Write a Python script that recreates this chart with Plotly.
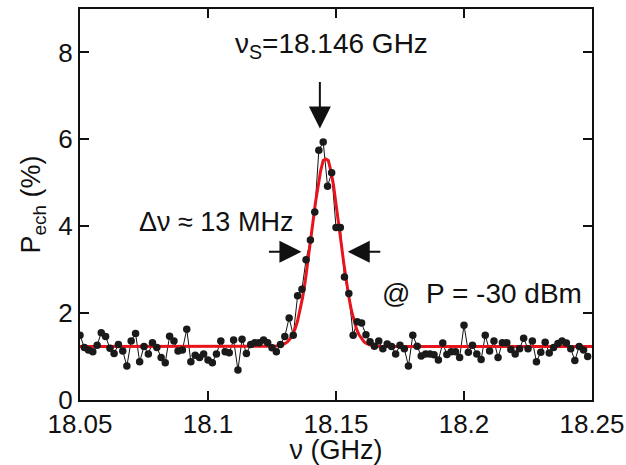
import plotly.graph_objects as go

# measured frequencies (GHz)
freq = [18.0500, 18.0517, 18.0533, 18.0550, 18.0567, 18.0583, 18.0600, 18.0617, 18.0633, 18.0650,
        18.0667, 18.0683, 18.0700, 18.0717, 18.0733, 18.0750, 18.0767, 18.0783, 18.0800, 18.0817,
        18.0833, 18.0850, 18.0867, 18.0883, 18.0900, 18.0917, 18.0933, 18.0950, 18.0967, 18.0983,
        18.1000, 18.1017, 18.1033, 18.1050, 18.1067, 18.1083, 18.1100, 18.1117, 18.1133, 18.1150,
        18.1167, 18.1183, 18.1200, 18.1217, 18.1233, 18.1250, 18.1267, 18.1283, 18.1300, 18.1317,
        18.1333, 18.1350, 18.1367, 18.1383, 18.1400, 18.1417, 18.1433, 18.1450, 18.1467, 18.1483,
        18.1500, 18.1517, 18.1533, 18.1550, 18.1567, 18.1583, 18.1600, 18.1617, 18.1633, 18.1650,
        18.1667, 18.1683, 18.1700, 18.1717, 18.1733, 18.1750, 18.1767, 18.1783, 18.1800, 18.1817,
        18.1833, 18.1850, 18.1867, 18.1883, 18.1900, 18.1917, 18.1933, 18.1950, 18.1967, 18.1983,
        18.2000, 18.2017, 18.2033, 18.2050, 18.2067, 18.2083, 18.2100, 18.2117, 18.2133, 18.2150,
        18.2167, 18.2183, 18.2200, 18.2217, 18.2233, 18.2250, 18.2267, 18.2283, 18.2300, 18.2317,
        18.2333, 18.2350, 18.2367, 18.2383, 18.2400, 18.2417, 18.2433, 18.2450, 18.2467, 18.2483]

# measured switching probability (%)
p_ech = [1.49, 1.21, 1.15, 1.11, 1.26, 1.55, 1.46, 1.19, 1.07, 1.28,
         1.13, 0.78, 1.36, 1.53, 0.88, 1.23, 1.06, 1.32, 1.21, 0.98,
         0.86, 1.47, 1.36, 1.13, 1.15, 1.63, 0.88, 1.03, 0.98, 1.06,
         0.92, 0.86, 1.06, 1.36, 1.11, 1.09, 1.38, 0.69, 1.40, 1.07,
         1.28, 1.32, 1.32, 1.38, 1.32, 1.20, 1.11, 1.28, 1.46, 1.89,
         1.49, 2.40, 2.55, 3.23, 3.68, 4.33, 5.75, 5.94, 4.92, 5.23,
         3.97, 3.97, 2.83, 2.45, 1.49, 1.80, 1.77, 1.50, 1.34, 1.24,
         1.36, 1.18, 1.29, 1.23, 1.06, 1.26, 1.18, 0.78, 1.49, 1.24,
         1.01, 1.06, 1.06, 1.04, 0.92, 1.31, 1.05, 1.11, 1.11, 0.98,
         1.72, 1.10, 1.26, 1.06, 0.93, 1.49, 1.13, 1.36, 0.98, 1.32,
         1.32, 1.16, 1.06, 1.18, 1.42, 1.18, 1.36, 0.88, 1.10, 1.33,
         1.08, 1.21, 1.30, 1.36, 1.31, 1.18, 0.91, 1.23, 1.15, 1.00]

# fitted curve
fit_freq = [18.050, 18.124, 18.126, 18.128, 18.129, 18.130, 18.131, 18.132, 18.133, 18.134,
            18.135, 18.136, 18.137, 18.138, 18.139, 18.140, 18.141, 18.142, 18.143, 18.144,
            18.145, 18.146, 18.147, 18.148, 18.149, 18.150, 18.151, 18.152, 18.153, 18.154,
            18.155, 18.156, 18.157, 18.158, 18.159, 18.160, 18.161, 18.162, 18.163, 18.164,
            18.166, 18.168, 18.250]
fit_p = [1.230, 1.232, 1.236, 1.251, 1.268, 1.295, 1.338, 1.403, 1.500, 1.637,
         1.823, 2.068, 2.374, 2.742, 3.163, 3.623, 4.096, 4.552, 4.957, 5.276,
         5.515, 5.550, 5.515, 5.276, 4.957, 4.552, 4.096, 3.623, 3.163, 2.742,
         2.374, 2.068, 1.823, 1.637, 1.500, 1.403, 1.338, 1.295, 1.268, 1.251,
         1.236, 1.232, 1.230]

x_ticks = [18.05, 18.1, 18.15, 18.2, 18.25]
x_ticklabels = ["18.05", "18.1", "18.15", "18.2", "18.25"]
y_ticks = [0, 2, 4, 6, 8]

FONT = "Liberation Sans, Arial, Helvetica, sans-serif"

fig = go.Figure()
fig.add_trace(go.Scatter(x=freq, y=p_ech, mode="lines",
                         line=dict(color="#111111", width=1), showlegend=False))
fig.add_trace(go.Scatter(x=fit_freq, y=fit_p, mode="lines",
                         line=dict(color="#e8141c", width=3), showlegend=False))
fig.add_trace(go.Scatter(x=freq, y=p_ech, mode="markers",
                         marker=dict(color="#1a1a1a", size=7.5), showlegend=False))

ann_font = dict(family=FONT, size=27, color="#111111")
fig.add_annotation(x=18.1483, y=8.16, text="ν<sub>S</sub>=18.146 GHz", showarrow=False,
                   font=dict(family=FONT, size=28, color="#111111"))
fig.add_annotation(x=18.1437, y=6.25, ax=0, ay=-48, text="", showarrow=True,
                   arrowhead=2, arrowsize=2.2, arrowwidth=2, arrowcolor="#111111")
fig.add_annotation(x=18.1031, y=4.09, text="Δν ≈ 13 MHz", showarrow=False, font=ann_font)
fig.add_annotation(x=18.1365, y=3.41, ax=-34, ay=0, text="", showarrow=True,
                   arrowhead=2, arrowsize=2.2, arrowwidth=2, arrowcolor="#111111")
fig.add_annotation(x=18.1546, y=3.41, ax=34, ay=0, text="", showarrow=True,
                   arrowhead=2, arrowsize=2.2, arrowwidth=2, arrowcolor="#111111")
fig.add_annotation(x=18.2069, y=2.46, text="@  P = -30 dBm", showarrow=False,
                   font=dict(family=FONT, size=28, color="#111111"))

axis_common = dict(showline=True, linecolor="#111111", linewidth=2, mirror="ticks",
                   ticks="inside", ticklen=9, tickwidth=2, tickcolor="#111111",
                   showgrid=False, zeroline=False,
                   tickfont=dict(family=FONT, size=26, color="#111111"))

fig.update_xaxes(range=[18.05, 18.25], tickvals=x_ticks, ticktext=x_ticklabels,
                 ticklabeloverflow="allow",
                 title=dict(text="ν (GHz)", font=dict(family=FONT, size=27, color="#111111"),
                            standoff=0),
                 **axis_common)
fig.update_yaxes(range=[0, 9], tickvals=y_ticks,
                 title=dict(text="P<sub>ech</sub> (%)", font=dict(family=FONT, size=27, color="#111111"),
                            standoff=10),
                 **axis_common)

fig.update_layout(width=626, height=465, margin=dict(l=80, r=34, t=9, b=65, autoexpand=False),
                  plot_bgcolor="white", paper_bgcolor="white")

# remove the page's default body margin so the figure fills the window exactly
fig.write_html("out.html", config={"displayModeBar": False},
               post_script="document.body.style.margin='0';document.body.style.overflow='hidden';")
